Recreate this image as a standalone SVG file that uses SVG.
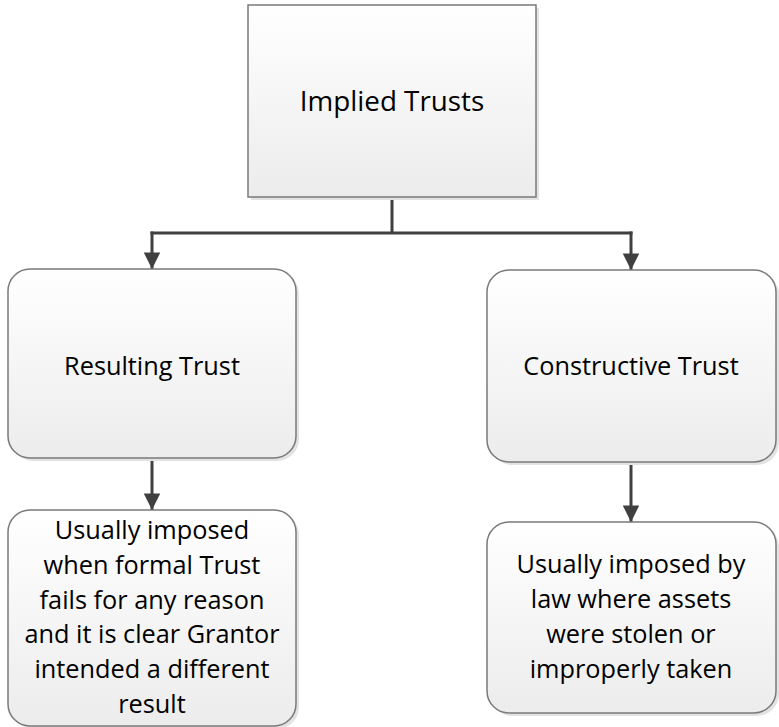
<svg xmlns="http://www.w3.org/2000/svg" width="779" height="727" viewBox="0 0 779 727">
  <style>
    .box { fill: url(#boxFill); stroke: #7a7a7a; stroke-width: 1.5; }
    .shadow { fill: #e3e3e3; }
    .label { font-family: "Open Sans", "Liberation Sans", sans-serif; font-size: 25.3px; fill: #000; text-anchor: middle; }
    .title { font-size: 27.8px; }
    .wire { fill: none; stroke: #404040; stroke-width: 3; }
  </style>
  <defs>
    <linearGradient id="boxFill" x1="0" y1="0" x2="0" y2="1">
      <stop offset="0" stop-color="#ffffff"/>
      <stop offset="1" stop-color="#ececec"/>
    </linearGradient>
    <marker id="arrow" viewBox="0 0 10 10" refX="10" refY="5" markerWidth="5.7" markerHeight="5.5" orient="auto" markerUnits="strokeWidth">
      <path d="M0,0 L10,5 L0,10 Z" fill="#404040"/>
    </marker>
  </defs>

  <g id="connectors">
    <path class="wire" d="M392,197 V233"/>
    <path class="wire" d="M150.5,233 H632.5"/>
    <path class="wire" d="M152,231.5 V269" marker-end="url(#arrow)"/>
    <path class="wire" d="M631,231.5 V270" marker-end="url(#arrow)"/>
    <path class="wire" d="M152,458 V510" marker-end="url(#arrow)"/>
    <path class="wire" d="M631,462 V522" marker-end="url(#arrow)"/>
  </g>

  <g id="implied-trusts">
    <rect class="shadow" x="251" y="8" width="288" height="192"/>
    <rect class="box" x="248" y="5" width="288" height="192"/>
    <text class="label title" x="392" y="111">Implied Trusts</text>
  </g>

  <g id="resulting-trust">
    <rect class="shadow" x="11" y="272" width="288" height="189" rx="22"/>
    <rect class="box" x="8" y="269" width="288" height="189" rx="22"/>
    <text class="label" x="152" y="375">Resulting Trust</text>
  </g>

  <g id="constructive-trust">
    <rect class="shadow" x="490" y="273" width="289" height="192" rx="22"/>
    <rect class="box" x="487" y="270" width="289" height="192" rx="22"/>
    <text class="label" x="631" y="375">Constructive Trust</text>
  </g>

  <g id="resulting-note">
    <rect class="shadow" x="11" y="513" width="288" height="216" rx="22"/>
    <rect class="box" x="8" y="510" width="288" height="216" rx="22"/>
    <text class="label" x="152" y="539">Usually imposed</text>
    <text class="label" x="152" y="574">when formal Trust</text>
    <text class="label" x="152" y="609">fails for any reason</text>
    <text class="label" x="152" y="643">and it is clear Grantor</text>
    <text class="label" x="152" y="678">intended a different</text>
    <text class="label" x="152" y="713">result</text>
  </g>

  <g id="constructive-note">
    <rect class="shadow" x="490" y="525" width="289" height="191" rx="22"/>
    <rect class="box" x="487" y="522" width="289" height="191" rx="22"/>
    <text class="label" x="631" y="573">Usually imposed by</text>
    <text class="label" x="631" y="608">law where assets</text>
    <text class="label" x="631" y="643">were stolen or</text>
    <text class="label" x="631" y="678">improperly taken</text>
  </g>
</svg>
